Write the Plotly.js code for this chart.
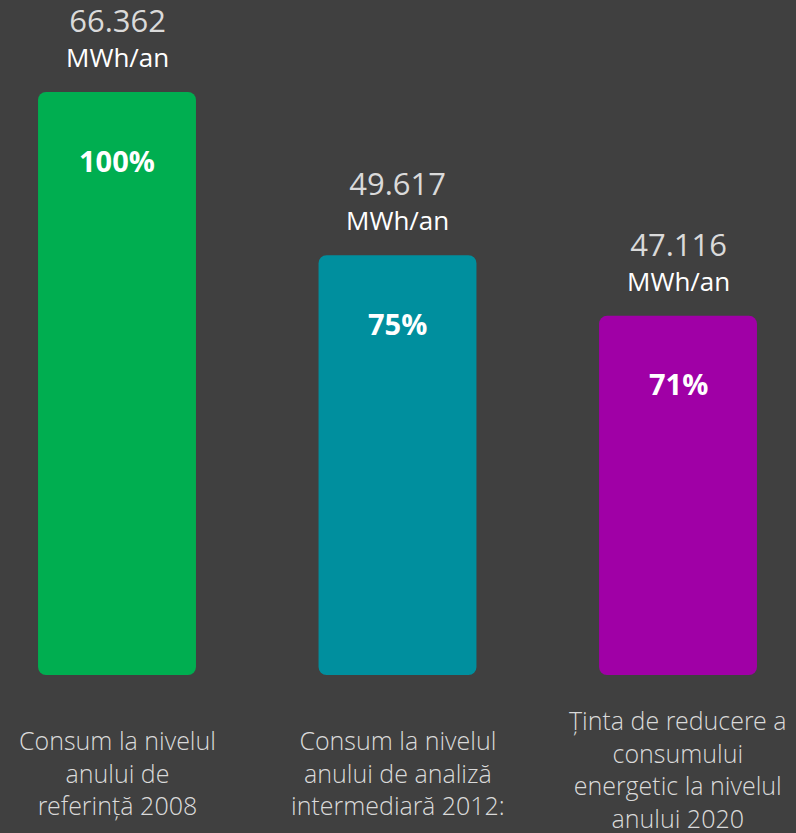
<!DOCTYPE html>
<html>
<head>
<meta charset="utf-8">
<script src="https://cdn.plot.ly/plotly-3.0.1.min.js"></script>
<style>html,body{margin:0;padding:0;background:#404040;}#chart{width:796px;height:833px;}</style>
</head>
<body>
<div id="chart"></div>
<script>
// Data
const categories = [
  "Consum la nivelul<br>anului de<br>referință 2008",
  "Consum la nivelul<br>anului de analiză<br>intermediară 2012:",
  "Ținta de reducere a<br>consumului<br>energetic la nivelul<br>anului 2020"
];
const consumptionMWh = ["66.362", "49.617", "47.116"];
const unitLabel = "MWh/an";
const percentLabels = ["100%", "75%", "71%"];
// bar heights as drawn in the picture (relative, first bar = 100)
const barHeights = [100, 72.0, 61.6];
const barColors = ["#00ae50", "#008f9e", "#a000a6"];

const xs = [0, 1, 2];
const lightFam = "'Open Sans Light', 'Open Sans', 'Noto Sans', sans-serif";
const fontFam = "'Open Sans', 'Noto Sans', sans-serif";

const bars = {
  type: "bar", x: xs, y: barHeights, base: xs.map(() => 0),
  marker: {color: barColors, line: {width: 0}}, width: 0.563, hoverinfo: "skip"
};

const annotations = [];
xs.forEach((x, i) => {
  annotations.push({x: x, y: barHeights[i], xref: "x", yref: "y",
    text: "<span style='font-size:31px;fill:#dadada'>" + consumptionMWh[i] + "</span><br>" +
          "<span style='font-size:26px;fill:#ffffff'>" + unitLabel + "</span>",
    showarrow: false, yanchor: "middle", yshift: 55, align: "center",
    font: {family: fontFam, size: 27, color: "#ffffff", weight: 400}});
  annotations.push({x: x, y: barHeights[i], xref: "x", yref: "y", text: percentLabels[i],
    showarrow: false, yanchor: "middle", yshift: -68,
    font: {family: fontFam, size: 29, color: "#ffffff", weight: 700}});
  const nLines = categories[i].split("<br>").length;
  const centerPx = nLines > 3 ? 768.5 : 773;
  annotations.push({x: x, y: (675 - centerPx) / 675, xref: "x", yref: "paper", text: categories[i],
    showarrow: false, yanchor: "middle", align: "center",
    font: {family: lightFam, size: 25, color: "#dadada", weight: 300}});
});

const layout = {
  width: 796, height: 833,
  margin: {l: 0, r: 0, t: 0, b: 158, pad: 0},
  paper_bgcolor: "#404040", plot_bgcolor: "#404040",
  barcornerradius: 8,
  showlegend: false,
  xaxis: {range: [-117 / 280.5, (796 - 117) / 280.5], visible: false, fixedrange: true},
  yaxis: {range: [0, 100 * 675 / 583], visible: false, fixedrange: true},
  annotations: annotations
};

Plotly.newPlot("chart", [bars], layout, {displayModeBar: false, staticPlot: true});
</script>
</body>
</html>
